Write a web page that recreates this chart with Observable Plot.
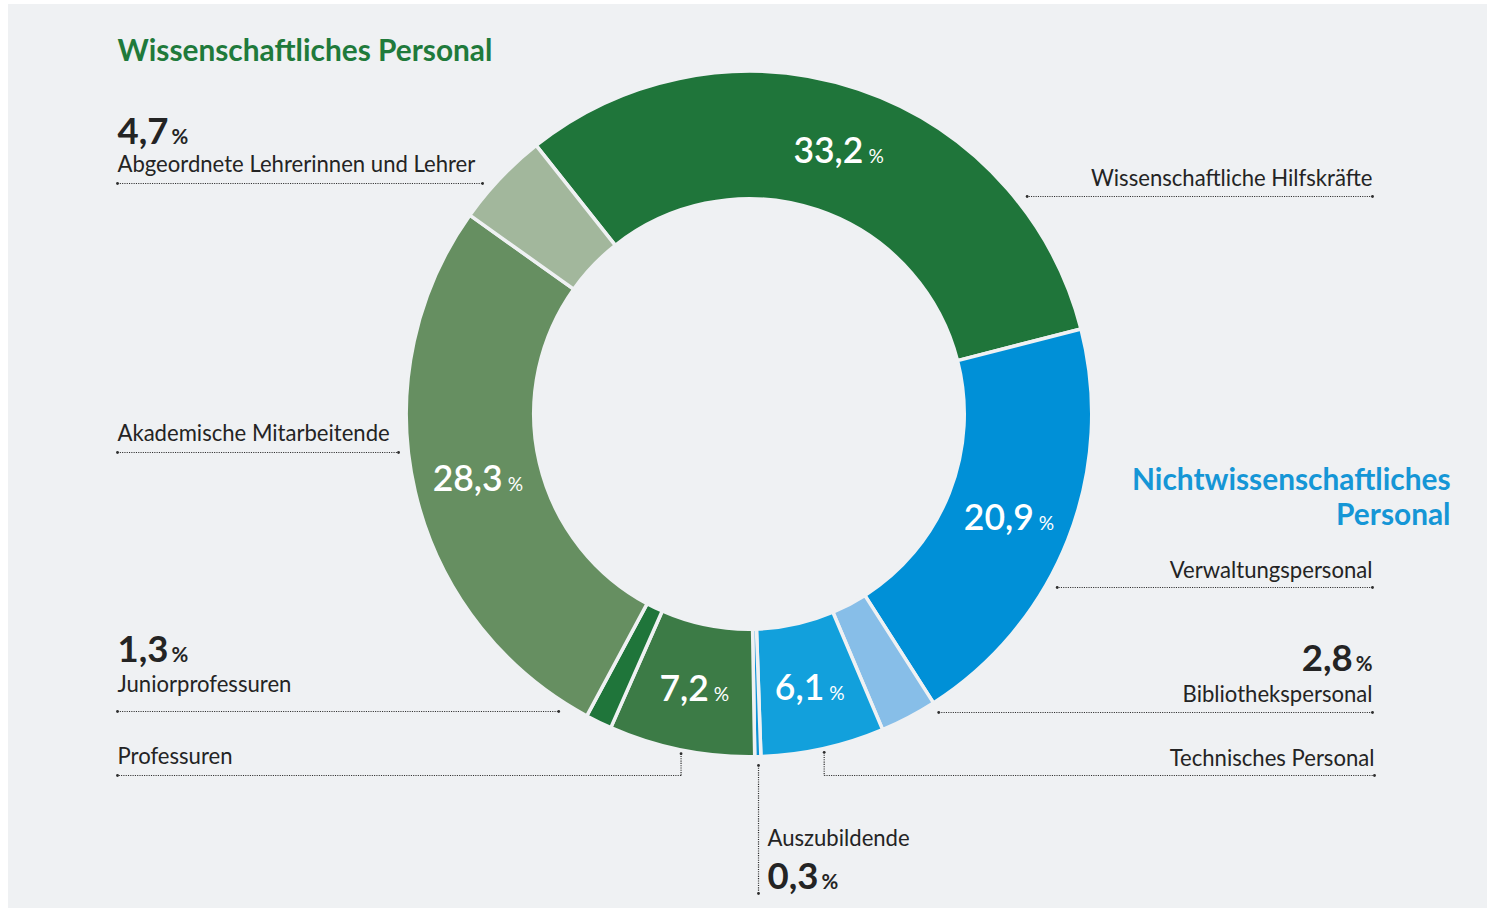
<!DOCTYPE html>
<html>
<head>
<meta charset="utf-8">
<script src="https://cdn.jsdelivr.net/npm/d3@7"></script>
<script src="https://cdn.jsdelivr.net/npm/@observablehq/plot@0.6"></script>
<style>
  html, body { margin: 0; padding: 0; background: #ffffff; overflow: hidden; }
  #panel { position: absolute; left: 8px; top: 4px; width: 1479px; height: 904px; background: #eff1f3; }
  #chart { position: absolute; left: 0; top: 0; }
</style>
</head>
<body>
<div id="panel"></div>
<div id="chart"></div>
<script>
// ---------------- DATA ----------------
const categories = [
  "Wissenschaftliche Hilfskräfte",
  "Verwaltungspersonal",
  "Bibliothekspersonal",
  "Technisches Personal",
  "Auszubildende",
  "Professuren",
  "Juniorprofessuren",
  "Akademische Mitarbeitende",
  "Abgeordnete Lehrerinnen und Lehrer"
];
const values = [33.2, 20.9, 2.8, 6.1, 0.3, 7.2, 1.3, 28.3, 4.7]; // percent
const groups = [
  "Wissenschaftliches Personal",
  "Nichtwissenschaftliches Personal",
  "Nichtwissenschaftliches Personal",
  "Nichtwissenschaftliches Personal",
  "Nichtwissenschaftliches Personal",
  "Wissenschaftliches Personal",
  "Wissenschaftliches Personal",
  "Wissenschaftliches Personal",
  "Wissenschaftliches Personal"
];
const groupNames = ["Wissenschaftliches Personal", "Nichtwissenschaftliches Personal"];

// ---------------- STYLE / LAYOUT ----------------
const W = 1493, H = 908;
const BG = "#eff1f3";
const TEXT = "#242424";
const FONT = "Lato";
const sliceColors = ["#1f753a", "#0090d7", "#87bee8", "#12a0dc", "#0c92d6", "#3c7b46", "#1f753a", "#668f61", "#a2b79c"];
const groupColors = ["#1f7a3b", "#1596d6"];
const valuePlacement = ["inside", "inside", "outside", "inside", "outside", "inside", "outside", "inside", "outside"];
const center = {x: 749, y: 414};
const rOuter = 341, rInner = 217;
const startDeg = -38.4;

// label layout (per category, same order)
const labelLayout = [
  {anchor: "end",   x: 1372, y: 185, lineY: 196, kind: "h", side: "right"},
  {anchor: "end",   x: 1372, y: 577, lineY: 587, kind: "h", side: "right"},
  {anchor: "end",   x: 1372, y: 701, lineY: 712, kind: "h", side: "right", valueY: 670},
  {anchor: "end",   x: 1374, y: 765, lineY: 775, kind: "v", side: "right"},
  {anchor: "start", x: 767,  y: 845, lineY: 893, kind: "drop", side: "below", valueY: 888},
  {anchor: "start", x: 117,  y: 763, lineY: 775, kind: "v", side: "left"},
  {anchor: "start", x: 117,  y: 691, lineY: 711, kind: "h", side: "left", valueY: 661},
  {anchor: "start", x: 117,  y: 440, lineY: 452, kind: "h", side: "left"},
  {anchor: "start", x: 117,  y: 171, lineY: 183, kind: "h", side: "left", valueY: 143}
];
const headerLayout = [
  {x: 117, y: 60, anchor: "start", wrap: false},
  {x: 1450, y: 524, anchor: "end", wrap: true}
];

// ---------------- HELPERS ----------------
const fmt = d3.formatLocale({decimal: ",", thousands: ".", grouping: [3], currency: ["", " €"]}).format(".1f");
const ctx = document.createElement("canvas").getContext("2d");
function textWidth(str, weight, size) { ctx.font = `${weight} ${size}px ${FONT}`; return ctx.measureText(str).width; }
function fit(str, weight, target) { return 100 * target / textWidth(str, weight, 100); }

const labelSize = fit("Abgeordnete Lehrerinnen und Lehrer", 400, 358);
const headerSize = fit("Wissenschaftliches Personal", 700, 375);
const outNumSize = fit("4,7", 700, 51);
const outPctSize = outNumSize * 0.56;
const inNumSize = fit("33,2", 600, 70);
const inPctSize = inNumSize * 0.54;

const color = Plot.scale({color: {type: "ordinal", domain: categories, range: sliceColors}});

const rows = categories.map((c, i) => ({category: c, value: values[i], group: groups[i], label: fmt(values[i]), i}));
const pie = d3.pie().sort(null).value(d => d.value)
  .startAngle(startDeg * Math.PI / 180)
  .endAngle(startDeg * Math.PI / 180 + 2 * Math.PI);
const arcs = pie(rows);
const arcGen = d3.arc().innerRadius(rInner - 1.75).outerRadius(rOuter + 1.75);
const midArc = d3.arc().innerRadius(rInner).outerRadius(rOuter);

// inside value labels
const inside = arcs.filter(a => valuePlacement[a.data.i] === "inside").map(a => {
  const [cx, cy] = midArc.centroid(a);
  const wn = textWidth(a.data.label, 600, inNumSize);
  const wp = textWidth("%", 400, inPctSize);
  const gap = 5;
  const x0 = center.x + cx - (wn + gap + wp) / 2;
  const base = center.y + cy + 0.36 * inNumSize;
  return {num: a.data.label, xNum: x0, xPct: x0 + wn + gap, y: base};
});

// outside value labels
const outside = arcs.filter(a => valuePlacement[a.data.i] === "outside").map(a => {
  const L = labelLayout[a.data.i];
  const wn = textWidth(a.data.label, 700, outNumSize);
  const wp = textWidth("%", 700, outPctSize);
  const gap = 3;
  let xNum;
  if (L.anchor === "end") xNum = L.x - wp - gap - wn; else xNum = L.x;
  return {num: a.data.label, xNum, xPct: xNum + wn + gap, y: L.valueY};
});

// category name labels
const names = rows.map(r => ({text: r.category, x: labelLayout[r.i].x, y: labelLayout[r.i].y, anchor: labelLayout[r.i].anchor}));

// leader lines
function circleX(y, r, side) {
  const dy = y - center.y;
  const dx = Math.sqrt(Math.max(0, r * r - dy * dy));
  return side === "left" ? center.x - dx : center.x + dx;
}
const segs = [], ends = [];
arcs.forEach(a => {
  const L = labelLayout[a.data.i];
  const mid = (a.startAngle + a.endAngle) / 2;
  if (L.kind === "h") {
    const xe = circleX(L.lineY, rOuter + 12, L.side);
    segs.push({x1: L.x, y1: L.lineY, x2: xe, y2: L.lineY});
    ends.push({x: L.x, y: L.lineY}, {x: xe, y: L.lineY});
  } else {
    const r = L.kind === "drop" ? rOuter + 10 : rOuter + 5;
    const ax = center.x + r * Math.sin(mid), ay = center.y - r * Math.cos(mid);
    segs.push({x1: ax, y1: ay, x2: ax, y2: L.lineY});
    ends.push({x: ax, y: ay});
    if (L.kind === "v") {
      segs.push({x1: ax, y1: L.lineY, x2: L.x, y2: L.lineY});
      ends.push({x: L.x, y: L.lineY});
    } else {
      ends.push({x: ax, y: L.lineY});
    }
  }
});

// group headers
const headers = groupNames.map((g, i) => ({
  text: headerLayout[i].wrap ? g.replace(" ", "\n") : g,
  x: headerLayout[i].x, y: headerLayout[i].y, anchor: headerLayout[i].anchor, color: groupColors[i]
}));

// donut render mark
function donut(index, scales) {
  const g = d3.create("svg:g")
    .attr("transform", `translate(${scales.x(center.x)},${scales.y(center.y)})`);
  g.selectAll("path").data(arcs).join("path")
    .attr("d", arcGen)
    .attr("fill", d => color.apply(d.data.category))
    .attr("stroke", BG)
    .attr("stroke-width", 3.5)
    .attr("stroke-linejoin", "round");
  return g.node();
}

const common = {fontFamily: FONT, lineAnchor: "bottom"};

const plot = Plot.plot({
  width: W, height: H, margin: 0,
  x: {domain: [0, W], range: [0, W], axis: null},
  y: {domain: [0, H], range: [0, H], axis: null},
  style: {background: "transparent", fontFamily: FONT, overflow: "visible"},
  marks: [
    Plot.link(segs, {x1: "x1", y1: "y1", x2: "x2", y2: "y2", stroke: "#2e2e2e", strokeWidth: 1.2, strokeDasharray: "1.1,1.2"}),
    Plot.dot(ends, {x: "x", y: "y", r: 1.4, fill: "#2e2e2e"}),
    donut,
    // inside values
    Plot.text(inside, {...common, x: "xNum", y: "y", text: "num", textAnchor: "start", fill: "white", fontSize: inNumSize, fontWeight: 600}),
    Plot.text(inside, {...common, x: "xPct", y: "y", text: () => "%", textAnchor: "start", fill: "white", fontSize: inPctSize, fontWeight: 400}),
    // outside values
    Plot.text(outside, {...common, x: "xNum", y: "y", text: "num", textAnchor: "start", fill: TEXT, fontSize: outNumSize, fontWeight: 700}),
    Plot.text(outside, {...common, x: "xPct", y: "y", text: () => "%", textAnchor: "start", fill: TEXT, fontSize: outPctSize, fontWeight: 700}),
    // category names
    Plot.text(names.filter(d => d.anchor === "start"), {...common, x: "x", y: "y", text: "text", textAnchor: "start", fill: TEXT, fontSize: labelSize}),
    Plot.text(names.filter(d => d.anchor === "end"), {...common, x: "x", y: "y", text: "text", textAnchor: "end", fill: TEXT, fontSize: labelSize}),
    // group headers
    Plot.text(headers.filter(d => d.anchor === "start"), {...common, x: "x", y: "y", text: "text", textAnchor: "start", fill: "color", fontSize: headerSize, fontWeight: 700}),
    Plot.text(headers.filter(d => d.anchor === "end"), {...common, x: "x", y: "y", text: "text", textAnchor: "end", fill: "color", fontSize: headerSize, fontWeight: 700, lineHeight: 1.15})
  ]
});
document.getElementById("chart").appendChild(plot);
</script>
</body>
</html>
